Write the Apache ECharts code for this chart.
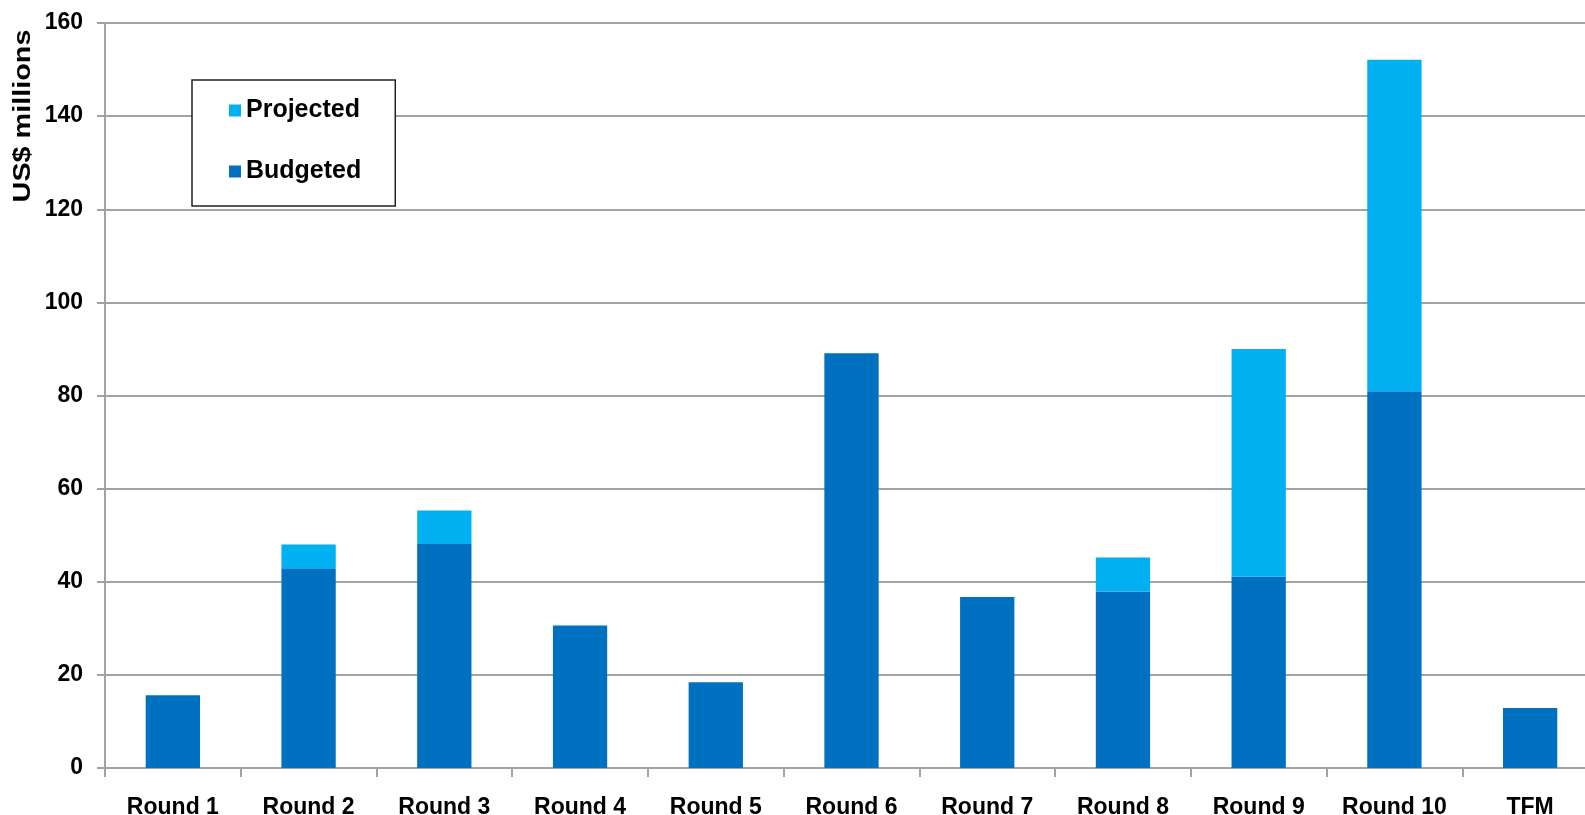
<!DOCTYPE html>
<html>
<head>
<meta charset="utf-8">
<script src="https://cdn.jsdelivr.net/npm/echarts@6/dist/echarts.min.js"></script>
<style>
  html, body { margin: 0; padding: 0; background: #fff; overflow: hidden; }
  #chart { width: 1585px; height: 815px; }
</style>
</head>
<body>
<div id="chart"></div>
<script>
const categories = ['Round 1', 'Round 2', 'Round 3', 'Round 4', 'Round 5', 'Round 6', 'Round 7', 'Round 8', 'Round 9', 'Round 10', 'TFM']
const budgeted = [15.6, 42.9, 48.1, 30.6, 18.4, 89.1, 36.7, 37.9, 41.1, 80.9, 12.9]
const projected = [0, 5.1, 7.2, 0, 0, 0, 0, 7.3, 48.9, 71.2, 0]
const yTicks = { min: 0, max: 160, interval: 20 }

const gray = '#a3a3a3'
const font = '"Liberation Sans", Arial, sans-serif'

const chart = echarts.init(document.getElementById('chart'))

chart.setOption({
  animation: false,
  backgroundColor: '#fff',
  // plot area runs a little past the right edge in the original
  grid: { left: 105, top: 23, bottom: 47, right: -13, outerBoundsMode: 'none' },
  graphic: [
    {
      type: 'text',
      x: 23,
      y: 116,
      rotation: Math.PI / 2,
      scaleX: 1.2,
      style: {
        text: 'US$ millions',
        font: 'bold 24px ' + font,
        fill: '#000',
        align: 'center',
        verticalAlign: 'middle'
      }
    }
  ],
  legend: {
    data: ['Projected', 'Budgeted'],
    orient: 'vertical',
    left: 192,
    top: 80,
    padding: [18, 34, 22, 37],
    itemGap: 36,
    itemWidth: 12,
    itemHeight: 12,
    icon: 'rect',
    backgroundColor: '#fff',
    borderColor: '#222',
    borderWidth: 1.5,
    borderRadius: 0,
    textStyle: { fontFamily: font, fontWeight: 'bold', fontSize: 25, color: '#000', lineHeight: 24 }
  },
  xAxis: {
    type: 'category',
    data: categories,
    axisLine: { lineStyle: { color: gray, width: 2 } },
    axisTick: { show: true, length: 9, lineStyle: { color: gray, width: 2 } },
    axisLabel: { interval: 0, fontFamily: font, fontWeight: 'bold', fontSize: 23, color: '#000', margin: 28 }
  },
  yAxis: {
    type: 'value',
    min: yTicks.min,
    max: yTicks.max,
    interval: yTicks.interval,
    axisLine: { show: true, lineStyle: { color: gray, width: 2 } },
    axisTick: { show: true, length: 8, lineStyle: { color: gray, width: 2 } },
    axisLabel: { fontFamily: font, fontWeight: 'bold', fontSize: 23, color: '#000', margin: 22 },
    splitLine: { lineStyle: { color: gray, width: 2 } }
  },
  series: [
    {
      name: 'Budgeted',
      type: 'bar',
      stack: 'total',
      data: budgeted,
      barWidth: '40%',
      itemStyle: { color: '#0070C0' }
    },
    {
      name: 'Projected',
      type: 'bar',
      stack: 'total',
      data: projected,
      barWidth: '40%',
      itemStyle: { color: '#00B0F0' }
    }
  ]
})
</script>
</body>
</html>
